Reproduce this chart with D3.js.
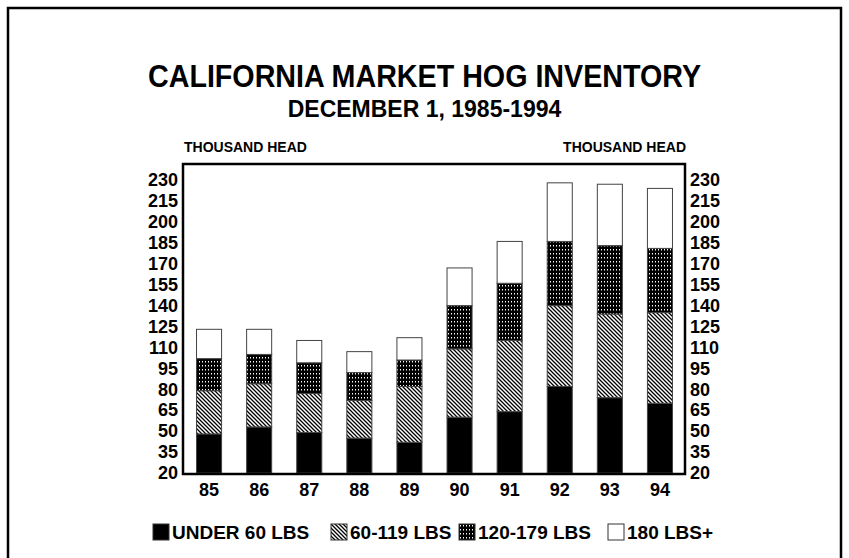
<!DOCTYPE html>
<html>
<head>
<meta charset="utf-8">
<script src="https://cdn.jsdelivr.net/npm/d3@7"></script>
<style>
  body { margin: 0; background: #fff; }
  svg { display: block; font-family: "Liberation Sans", Arial, sans-serif; }
</style>
</head>
<body>
<div id="chart"></div>
<script>
// values, thousand head
const years = ["85", "86", "87", "88", "89", "90", "91", "92", "93", "94"];
const under60 = [48, 53, 49, 45, 42, 60, 64, 82, 74, 70];
const w60to119 = [31, 31, 28, 27, 40, 49, 51, 58, 60, 65];
const w120to179 = [23, 21, 22, 20, 19, 31, 41, 46, 49, 46];
const w180plus = [21, 18, 16, 15, 16, 27, 30, 42, 44, 43];
const seriesNames = ["UNDER 60 LBS", "60-119 LBS", "120-179 LBS", "180 LBS+"];
const yTicks = d3.range(20, 231, 15);

const width = 849, height = 558;
const svg = d3.select("#chart").append("svg")
    .attr("width", width)
    .attr("height", height);

const defs = svg.append("defs");

// diagonal hatch for 60-119
const hatch = defs.append("pattern")
    .attr("id", "hatch")
    .attr("patternUnits", "userSpaceOnUse")
    .attr("width", 4).attr("height", 4);
hatch.append("rect").attr("width", 4).attr("height", 4).attr("fill", "#fff");
hatch.append("path")
    .attr("d", "M-1,-1L5,5M-1,3L1,5M3,-1L5,1")
    .attr("stroke", "#000").attr("stroke-width", 1.3);

// black with white dots for 120-179
const dots = defs.append("pattern")
    .attr("id", "dots")
    .attr("patternUnits", "userSpaceOnUse")
    .attr("width", 3).attr("height", 4);
dots.append("rect").attr("width", 3).attr("height", 4).attr("fill", "#000");
dots.append("rect").attr("x", 1).attr("y", 1).attr("width", 1).attr("height", 1.5).attr("fill", "#fff");

const fills = ["#000", "url(#hatch)", "url(#dots)", "#fff"];

// outer border
svg.append("rect")
    .attr("x", 8).attr("y", 8)
    .attr("width", 833).attr("height", 570)
    .attr("fill", "none").attr("stroke", "#000").attr("stroke-width", 2.5);

svg.append("text")
    .attr("x", width / 2).attr("y", 87)
    .attr("text-anchor", "middle")
    .attr("font-size", 32).attr("font-weight", "bold")
    .attr("textLength", 553).attr("lengthAdjust", "spacingAndGlyphs")
    .text("CALIFORNIA MARKET HOG INVENTORY");

svg.append("text")
    .attr("x", width / 2).attr("y", 117)
    .attr("text-anchor", "middle")
    .attr("font-size", 23).attr("font-weight", "bold")
    .text("DECEMBER 1, 1985-1994");

const plot = { left: 184, right: 685, top: 164, bottom: 473 };

const x = d3.scaleBand()
    .domain(years)
    .range([plot.left, plot.right])
    .paddingInner(0.5)
    .paddingOuter(0.25);

const y = d3.scaleLinear()
    .domain([20, 241.5])
    .range([plot.bottom, plot.top]);

const rows = years.map((yr, i) => ({
    year: yr, a: under60[i], b: w60to119[i], c: w120to179[i], d: w180plus[i]
}));
const stack = d3.stack().keys(["a", "b", "c", "d"])(rows);

const layer = svg.append("g").selectAll("g")
    .data(stack)
    .join("g")
    .attr("fill", (d, i) => fills[i]);

layer.selectAll("rect")
    .data(d => d)
    .join("rect")
    .attr("x", d => x(d.data.year))
    .attr("width", x.bandwidth())
    .attr("y", d => y(d[1]))
    .attr("height", d => y(Math.max(d[0], 20)) - y(d[1]))
    .attr("stroke", "#444")
    .attr("stroke-width", 1);

// plot frame
svg.append("rect")
    .attr("x", plot.left - 1).attr("y", plot.top)
    .attr("width", plot.right - plot.left + 1)
    .attr("height", plot.bottom - plot.top + 1)
    .attr("fill", "none").attr("stroke", "#000").attr("stroke-width", 2.5);

const tickFont = g => {
    g.select(".domain").remove();
    g.selectAll("text")
        .attr("font-size", 18).attr("font-weight", "bold")
        .attr("fill", "#000")
        .attr("font-family", "Liberation Sans, Arial, sans-serif");
};

svg.append("g")
    .attr("transform", `translate(${plot.left - 1},0)`)
    .call(d3.axisLeft(y).tickValues(yTicks).tickSize(0).tickPadding(5))
    .call(tickFont);

svg.append("g")
    .attr("transform", `translate(${plot.right},0)`)
    .call(d3.axisRight(y).tickValues(yTicks).tickSize(0).tickPadding(5))
    .call(tickFont);

svg.append("g")
    .attr("transform", `translate(0,${plot.bottom})`)
    .call(d3.axisBottom(x).tickSize(0).tickPadding(10))
    .call(tickFont);

svg.append("text")
    .attr("x", plot.left).attr("y", 152)
    .attr("font-size", 14).attr("font-weight", "bold")
    .text("THOUSAND HEAD");

svg.append("text")
    .attr("x", plot.right + 1).attr("y", 152)
    .attr("text-anchor", "end")
    .attr("font-size", 14).attr("font-weight", "bold")
    .text("THOUSAND HEAD");

// legend
const legendX = [153, 331, 459, 608];
const legend = svg.append("g").selectAll("g")
    .data(seriesNames)
    .join("g")
    .attr("transform", (d, i) => `translate(${legendX[i]},524)`);

legend.append("rect")
    .attr("width", 16).attr("height", 16)
    .attr("fill", (d, i) => fills[i])
    .attr("stroke", "#333").attr("stroke-width", 1);

legend.append("text")
    .attr("x", 19).attr("y", 15)
    .attr("font-size", 19).attr("font-weight", "bold")
    .text(d => d);
</script>
</body>
</html>
